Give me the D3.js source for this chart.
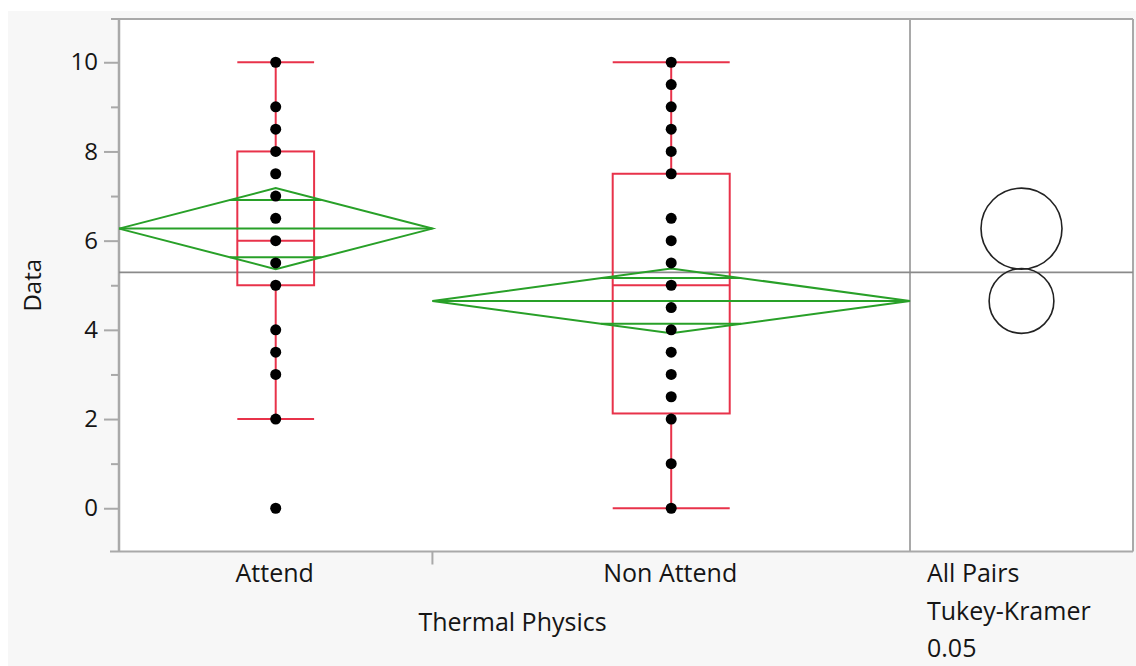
<!DOCTYPE html>
<html lang="en">
<head>
    <meta charset="UTF-8">
    <title>Thermal Physics - Oneway</title>
    <script src="https://d3js.org/d3.v7.min.js"></script>
    <style>
        body {
            margin: 0;
            background-color: white;
        }
        text {
            font-family: 'Open Sans', 'Noto Sans', sans-serif;
            fill: #151515;
        }
    </style>
</head>
<body>
    <div id="chart"></div>

  <script>
    // groups and their sizes (band width in JMP is proportional to n)
    const groups = ["Attend", "Non Attend"];
    const counts = [21, 32];

    // points shown on the chart (distinct values)
    const attendPoints = [0, 2, 3, 3.5, 4, 5, 5.5, 6, 6.5, 7, 7.5, 8, 8.5, 9, 10];
    const nonAttendPoints = [0, 1, 2, 2.5, 3, 3.5, 4, 4.5, 5, 5.5, 6, 6.5, 7.5, 8, 8.5, 9, 9.5, 10];

    // box plot summaries (whisker ends, quartiles, median)
    const whiskerLow = [2, 0];
    const boxQ1 = [5, 2.125];
    const boxMedian = [6, 5];
    const boxQ3 = [8, 7.5];
    const whiskerHigh = [10, 10];

    // means diamonds and comparison circles
    const means = [6.27, 4.648];
    const ciHalf = [0.908, 0.726];
    const grandMean = 5.29;

    const yTicks = [0, 2, 4, 6, 8, 10];
    const yMinorTicks = [1, 3, 5, 7, 9];
    const xTitle = "Thermal Physics";
    const yTitle = "Data";
    const testLabel = ["All Pairs", "Tukey-Kramer", "0.05"];

    const W = 1136, H = 666;
    const plot = { left: 119, top: 19, right: 1133, bottom: 551.5, split: 910 };
    const fontSize = 25;

    const svg = d3.select("#chart")
      .append("svg")
      .attr("width", W)
      .attr("height", H);

    // grey report background
    svg.append("rect")
      .attr("x", 8).attr("y", 11)
      .attr("width", W - 8).attr("height", H - 11)
      .attr("fill", "#f7f7f7");

    svg.append("rect")
      .attr("x", plot.left).attr("y", plot.top)
      .attr("width", plot.right - plot.left)
      .attr("height", plot.bottom - plot.top)
      .attr("fill", "white");

    // scales
    const yScale = d3.scaleLinear()
      .domain([-0.97, 10.97])
      .range([plot.bottom, plot.top]);

    const total = d3.sum(counts);
    const xScale = d3.scaleLinear()
      .domain([0, total])
      .range([plot.left, plot.split]);

    const cum = [0];
    counts.forEach((c, i) => cum.push(cum[i] + c));
    const bandL = i => xScale(cum[i]);
    const bandR = i => xScale(cum[i + 1]);
    const bandC = i => (bandL(i) + bandR(i)) / 2;

    // frame
    const frameColor = "#a9a9a9";
    svg.append("line")
      .attr("x1", 111).attr("x2", plot.right)
      .attr("y1", plot.top).attr("y2", plot.top)
      .attr("stroke", frameColor).attr("stroke-width", 2);
    svg.append("line")
      .attr("x1", 110).attr("x2", plot.right)
      .attr("y1", plot.bottom).attr("y2", plot.bottom)
      .attr("stroke", frameColor).attr("stroke-width", 2);
    svg.append("line")
      .attr("x1", plot.right).attr("x2", plot.right)
      .attr("y1", plot.top).attr("y2", plot.bottom)
      .attr("stroke", frameColor).attr("stroke-width", 2);
    svg.append("line")
      .attr("x1", plot.split).attr("x2", plot.split)
      .attr("y1", plot.top).attr("y2", plot.bottom)
      .attr("stroke", frameColor).attr("stroke-width", 2);

    // y axis
    const yAxis = svg.append("g")
      .attr("transform", `translate(${plot.left},0)`)
      .call(d3.axisLeft(yScale)
        .tickValues(yTicks)
        .tickSize(15)
        .tickSizeOuter(0)
        .tickPadding(6)
        .tickFormat(d3.format("d")));
    yAxis.select(".domain").remove();
    yAxis.selectAll(".tick line").attr("stroke", frameColor).attr("stroke-width", 2);
    yAxis.selectAll(".tick text")
      .attr("font-size", 24)
      .attr("font-family", "'Open Sans', sans-serif")
      .attr("fill", "#151515");

    const yMinor = svg.append("g")
      .attr("transform", `translate(${plot.left},0)`)
      .call(d3.axisLeft(yScale).tickValues(yMinorTicks).tickSize(8).tickFormat(""));
    yMinor.select(".domain").remove();
    yMinor.selectAll(".tick line").attr("stroke", frameColor).attr("stroke-width", 2);

    svg.append("line")
      .attr("x1", plot.left).attr("x2", plot.left)
      .attr("y1", plot.top).attr("y2", plot.bottom)
      .attr("stroke", frameColor).attr("stroke-width", 2.5);

    // grand mean line
    svg.append("line")
      .attr("x1", plot.left).attr("x2", plot.right)
      .attr("y1", yScale(grandMean)).attr("y2", yScale(grandMean))
      .attr("stroke", "#8a8a8a").attr("stroke-width", 1.8);

    // box plots
    const red = "#e8324a";
    const boxFrac = 0.245;
    groups.forEach((g, i) => {
      const cx = bandC(i);
      const hw = (bandR(i) - bandL(i)) * boxFrac / 2;
      const gBox = svg.append("g")
        .attr("fill", "none")
        .attr("stroke", red)
        .attr("stroke-width", 2);
      gBox.append("rect")
        .attr("x", cx - hw).attr("width", 2 * hw)
        .attr("y", yScale(boxQ3[i]))
        .attr("height", yScale(boxQ1[i]) - yScale(boxQ3[i]));
      gBox.append("line")
        .attr("x1", cx - hw).attr("x2", cx + hw)
        .attr("y1", yScale(boxMedian[i])).attr("y2", yScale(boxMedian[i]));
      gBox.append("line")
        .attr("x1", cx).attr("x2", cx)
        .attr("y1", yScale(boxQ3[i])).attr("y2", yScale(whiskerHigh[i]));
      gBox.append("line")
        .attr("x1", cx).attr("x2", cx)
        .attr("y1", yScale(boxQ1[i])).attr("y2", yScale(whiskerLow[i]));
      [whiskerHigh[i], whiskerLow[i]].forEach(v => {
        gBox.append("line")
          .attr("x1", cx - hw).attr("x2", cx + hw)
          .attr("y1", yScale(v)).attr("y2", yScale(v));
      });
    });

    // means diamonds
    const green = "#28a028";
    groups.forEach((g, i) => {
      const l = bandL(i), r = bandR(i), cx = bandC(i);
      const m = means[i], h = ciHalf[i];
      const gD = svg.append("g")
        .attr("fill", "none")
        .attr("stroke", green)
        .attr("stroke-width", 2);
      gD.append("path")
        .attr("d", d3.line()([
          [l, yScale(m)], [cx, yScale(m + h)], [r, yScale(m)], [cx, yScale(m - h)], [l, yScale(m)]
        ]));
      gD.append("line")
        .attr("x1", l).attr("x2", r)
        .attr("y1", yScale(m)).attr("y2", yScale(m));
      // overlap marks
      const off = h / Math.SQRT2;
      const halfW = (cx - l) * (1 - 1 / Math.SQRT2);
      [m + off, m - off].forEach(v => {
        gD.append("line")
          .attr("x1", cx - halfW).attr("x2", cx + halfW)
          .attr("y1", yScale(v)).attr("y2", yScale(v));
      });
    });

    // points
    [attendPoints, nonAttendPoints].forEach((pts, i) => {
      svg.append("g")
        .selectAll("circle")
        .data(pts)
        .enter()
        .append("circle")
        .attr("cx", bandC(i))
        .attr("cy", d => yScale(d))
        .attr("r", 5.5)
        .attr("fill", "black");
    });

    // comparison circles
    const ccx = (plot.split + plot.right) / 2;
    const unit = yScale(0) - yScale(1);
    svg.append("g")
      .selectAll("circle")
      .data(means)
      .enter()
      .append("circle")
      .attr("cx", ccx)
      .attr("cy", d => yScale(d))
      .attr("r", (d, i) => ciHalf[i] * unit)
      .attr("fill", "none")
      .attr("stroke", "#222")
      .attr("stroke-width", 1.6);

    // x axis: group divider tick + labels
    svg.append("g")
      .selectAll("line")
      .data(cum.slice(1, -1))
      .enter()
      .append("line")
      .attr("x1", d => xScale(d)).attr("x2", d => xScale(d))
      .attr("y1", plot.bottom).attr("y2", plot.bottom + 13)
      .attr("stroke", frameColor).attr("stroke-width", 2);

    svg.append("g")
      .selectAll("text")
      .data(groups)
      .enter()
      .append("text")
      .attr("x", (d, i) => bandC(i) - 1)
      .attr("y", 582)
      .attr("text-anchor", "middle")
      .attr("font-size", fontSize)
      .text(d => d);

    svg.append("text")
      .attr("x", (plot.left + plot.split) / 2 - 2)
      .attr("y", 631)
      .attr("text-anchor", "middle")
      .attr("font-size", fontSize)
      .text(xTitle);

    svg.append("text")
      .attr("transform", `translate(41,${(plot.top + plot.bottom) / 2}) rotate(-90)`)
      .attr("text-anchor", "middle")
      .attr("font-size", 24)
      .text(yTitle);

    svg.append("g")
      .selectAll("text")
      .data(testLabel)
      .enter()
      .append("text")
      .attr("x", 927)
      .attr("y", (d, i) => 582 + i * 37.5)
      .attr("font-size", fontSize)
      .text(d => d);
  </script>
</body>
</html>
